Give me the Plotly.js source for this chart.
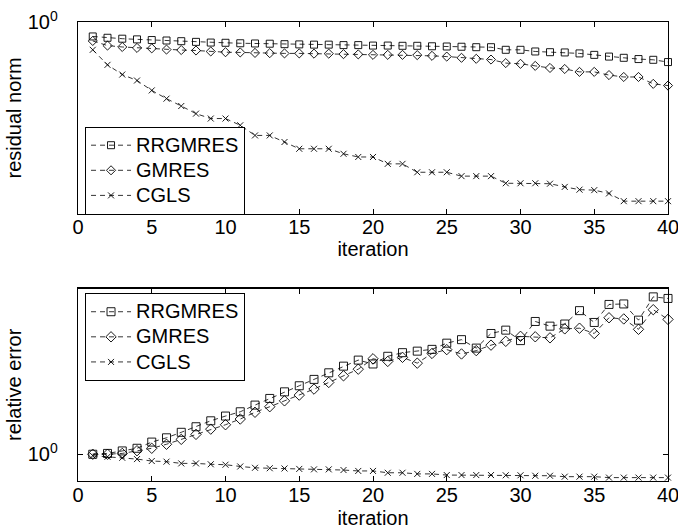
<!DOCTYPE html>
<html><head><meta charset="utf-8">
<script src="https://cdn.plot.ly/plotly-3.0.1.min.js"></script>
<style>html,body{margin:0;padding:0;background:#fff}</style>
</head><body>
<div id="chart" style="width:678px;height:530px"></div>
<script>
const iterations = [1,2,3,4,5,6,7,8,9,10,11,12,13,14,15,16,17,18,19,20,21,22,23,24,25,26,27,28,29,30,31,32,33,34,35,36,37,38,39,40];
const seriesNames = ['RRGMRES', 'GMRES', 'CGLS'];

const resRRGMRES = [0.933,0.927,0.923,0.920,0.917,0.915,0.912,0.909,0.906,0.905,0.903,0.902,0.901,0.899,0.898,0.897,0.897,0.895,0.895,0.893,0.893,0.892,0.892,0.890,0.889,0.888,0.886,0.886,0.875,0.875,0.868,0.865,0.864,0.860,0.854,0.847,0.842,0.837,0.834,0.825];
const resGMRES = [0.913,0.893,0.887,0.883,0.881,0.876,0.874,0.872,0.868,0.865,0.864,0.862,0.861,0.860,0.860,0.859,0.859,0.857,0.856,0.854,0.854,0.854,0.853,0.850,0.847,0.842,0.838,0.835,0.821,0.818,0.810,0.802,0.798,0.787,0.787,0.775,0.768,0.768,0.743,0.737];
const resCGLS = [0.875,0.814,0.777,0.755,0.720,0.692,0.668,0.644,0.629,0.629,0.609,0.580,0.580,0.562,0.544,0.544,0.544,0.531,0.523,0.523,0.506,0.506,0.486,0.486,0.486,0.477,0.477,0.477,0.461,0.461,0.461,0.460,0.453,0.447,0.446,0.439,0.423,0.423,0.423,0.423];

const errRRGMRES = [0.999,1.003,1.015,1.028,1.059,1.081,1.110,1.140,1.173,1.200,1.225,1.265,1.306,1.348,1.388,1.431,1.477,1.525,1.570,1.541,1.599,1.627,1.639,1.653,1.703,1.732,1.663,1.784,1.813,1.724,1.890,1.848,1.867,1.991,1.881,2.051,2.056,1.902,2.127,2.111];
const errGMRES = [0.999,0.999,1.003,1.016,1.028,1.048,1.073,1.099,1.127,1.151,1.183,1.222,1.255,1.291,1.327,1.366,1.410,1.456,1.503,1.580,1.560,1.591,1.547,1.621,1.651,1.617,1.643,1.687,1.718,1.760,1.756,1.747,1.824,1.830,1.784,1.924,1.913,1.820,2.000,1.909];
const errCGLS = [0.992,0.987,0.982,0.976,0.967,0.964,0.956,0.956,0.952,0.950,0.942,0.936,0.934,0.933,0.931,0.929,0.929,0.926,0.922,0.922,0.914,0.914,0.909,0.909,0.904,0.904,0.904,0.904,0.903,0.903,0.901,0.901,0.897,0.897,0.897,0.893,0.893,0.893,0.893,0.893];

const xTickVals = [0,5,10,15,20,25,30,35,40];
const yTickVals = [1];
const yTickText = ['10<sup>0</sup>'];

const FONT = 'Liberation Sans, Arial, Helvetica, sans-serif';
const symbols = ['square-open', 'diamond-open', 'x-thin-open'];
const sizesTop = [7, 7, 6];
const sizesBot = [8, 8, 6];

function legendLabel(name) {
  return '<span style="font-size:20px">' + name + '</span>';
}

function mk(name, y, sym, size, xa, ya, leg) {
  return {
    type: 'scatter', mode: 'lines+markers', name: legendLabel(name),
    x: iterations, y: y, xaxis: xa, yaxis: ya, legend: leg,
    cliponaxis: false,
    line: {color: 'black', width: 0.8, dash: '5px,4px'},
    marker: {symbol: sym, size: size, color: 'black', line: {color: 'black', width: 0.9}}
  };
}

const topData = [resRRGMRES, resGMRES, resCGLS];
const botData = [errRRGMRES, errGMRES, errCGLS];
const traces = [];
for (let i = 0; i < 3; i++) traces.push(mk(seriesNames[i], topData[i], symbols[i], sizesTop[i], 'x', 'y', 'legend'));
for (let i = 0; i < 3; i++) traces.push(mk(seriesNames[i], botData[i], symbols[i], sizesBot[i], 'x2', 'y2', 'legend2'));

const axCommon = {
  ticks: 'inside', ticklen: 5, tickwidth: 1, tickcolor: 'black',
  showline: true, linecolor: 'black', linewidth: 1.3, mirror: 'ticks',
  showgrid: false, zeroline: false, ticklabeloverflow: 'allow',
  tickfont: {size: 20, family: FONT, color: 'black'}
};

const legendCommon = {
  xanchor: 'left', yanchor: 'top',
  bordercolor: 'black', borderwidth: 1, bgcolor: 'white',
  font: {size: 17, family: FONT, color: 'black'}, itemwidth: 40, tracegroupgap: 0
};

const layout = {
  width: 678, height: 530,
  margin: {l: 78, r: 10, t: 21.5, b: 49, pad: 0},
  paper_bgcolor: 'white', plot_bgcolor: 'white',
  font: {family: FONT, size: 20, color: 'black'},
  xaxis: Object.assign({}, axCommon, {
    domain: [0, 1], anchor: 'y', range: [0, 40], tickvals: xTickVals,
    ticklabelstandoff: -5,
    title: {text: 'iteration', font: {size: 20}, standoff: 4}
  }),
  yaxis: Object.assign({}, axCommon, {
    domain: [0.58215, 1], anchor: 'x', type: 'log', range: [-0.4, 0],
    tickvals: yTickVals, ticktext: yTickText, ticklabelstandoff: 15,
    title: {text: 'residual norm', font: {size: 20}, standoff: 0}
  }),
  xaxis2: Object.assign({}, axCommon, {
    domain: [0, 1], anchor: 'y2', range: [0, 40], tickvals: xTickVals,
    ticklabelstandoff: -4,
    title: {text: 'iteration', font: {size: 20}, standoff: 5}
  }),
  yaxis2: Object.assign({}, axCommon, {
    domain: [0, 0.41937], anchor: 'x2', type: 'log', range: [-0.05625, 0.3452],
    tickvals: yTickVals, ticktext: yTickText, ticklabelstandoff: 15,
    title: {text: 'relative error', font: {size: 20}, standoff: 0}
  }),
  legend: Object.assign({}, legendCommon, {x: 0.0119, y: 0.772}),
  legend2: Object.assign({}, legendCommon, {x: 0.0119, y: 0.4092}),
  showlegend: true
};

Plotly.newPlot('chart', traces, layout, {staticPlot: true, displayModeBar: false});
</script>
</body></html>
